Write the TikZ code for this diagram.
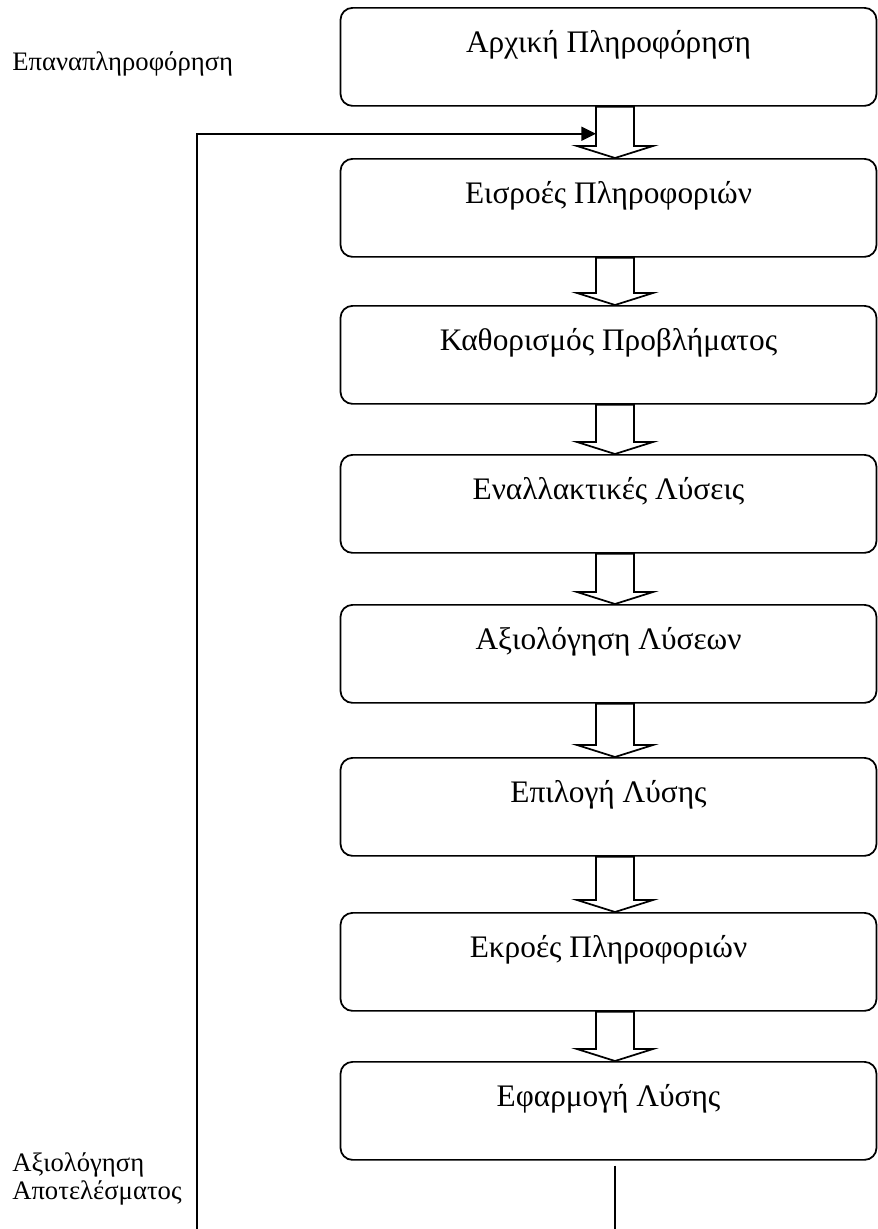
\documentclass[tikz,border=0pt]{standalone}
\usepackage{fontspec}
\setmainfont{Liberation Serif}
\usetikzlibrary{calc}
\usetikzlibrary{arrows.meta}

\newcommand{\stagearrow}[2]{\draw[hollow] ($(#1.south)+(-12.5,0)$) -- ($(#2.north)+(-12.5,-12)$) -- ($(#2.north)+(-31.5,-12)$) -- ($(#2.north)+(6.5,0)$) -- ($(#2.north)+(44.5,-12)$) -- ($(#2.north)+(25.5,-12)$) -- ($(#1.south)+(25.5,0)$) -- cycle;}

\begin{document}
\begin{tikzpicture}[x=0.75pt,y=-0.75pt]
		
		\tikzset{stage/.style = {shape=rectangle,draw,anchor=north,rounded corners=9pt,line width=1.3pt,minimum width=402pt,inner sep=0pt,text height=33.75pt,text depth=39.75pt,font=\fontsize{23.5}{28}\selectfont}}
		\tikzset{hollow/.style = {draw,line width=1.3pt}}
		\tikzset{edge/.style = {-{Triangle[length=11pt,width=10.5pt]},line width=1.3pt}}
		\tikzset{side/.style = {inner sep=0pt,font=\fontsize{20}{21}\selectfont}}
		
		\useasboundingbox (0,0) rectangle (878,1229);
		
		\node[stage] (A) at (608.5,7) {Αρχική Πληροφόρηση};
		\node[stage] (B) at (608.5,158) {Εισροές Πληροφοριών};
		\node[stage] (C) at (608.5,305) {Καθορισμός Προβλήματος};
		\node[stage] (D) at (608.5,454) {Εναλλακτικές Λύσεις};
		\node[stage] (E) at (608.5,604) {Αξιολόγηση Λύσεων};
		\node[stage] (F) at (608.5,757) {Επιλογή Λύσης};
		\node[stage] (G) at (608.5,912) {Εκροές Πληροφοριών};
		\node[stage] (H) at (608.5,1061) {Εφαρμογή Λύσης};
		
		\stagearrow{A}{B}
		\stagearrow{B}{C}
		\stagearrow{C}{D}
		\stagearrow{D}{E}
		\stagearrow{E}{F}
		\stagearrow{F}{G}
		\stagearrow{G}{H}
		
		\node[side,anchor=base west] (Feed) at (12,70) {Επαναπληροφόρηση};
		\node[side,anchor=north west,align=left] (Eval) at (12,1152) {Αξιολόγηση\\Αποτελέσματος};
		
		\coordinate (FeedStart) at (197,1229);
		\coordinate (OutEnd) at (615,1229);
		
		\draw[edge] (FeedStart) |- ($(A.south)+(-12.5,27)$);
		\draw[line width=1.3pt] ($(H.south)+(6.5,5)$) -- (OutEnd);
		
		\end{tikzpicture}
\end{document}
